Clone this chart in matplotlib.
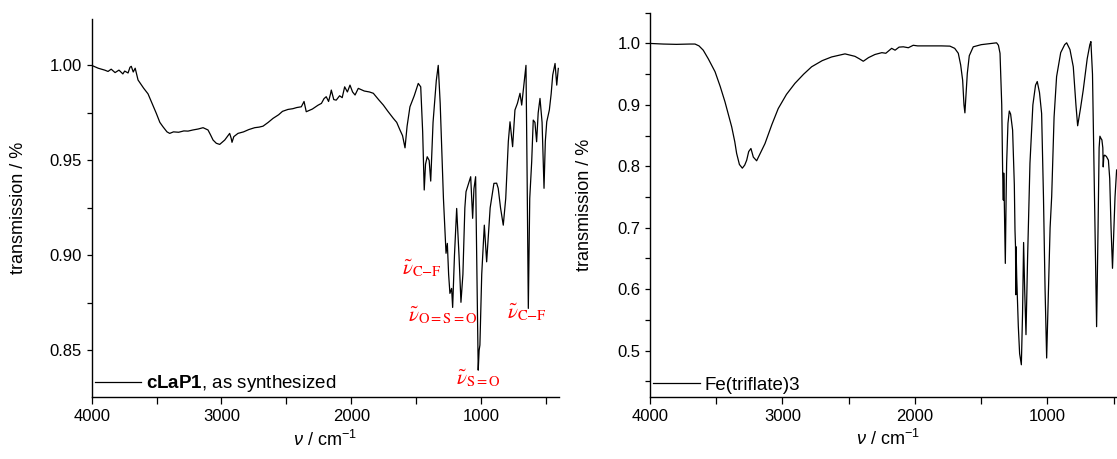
import matplotlib
matplotlib.use("Agg")
import matplotlib.pyplot as plt
from matplotlib.ticker import MultipleLocator, FormatStrFormatter

plt.rcParams['font.family'] = ['Liberation Sans', 'DejaVu Sans']
plt.rcParams['mathtext.fontset'] = 'custom'
plt.rcParams['mathtext.rm'] = 'Liberation Sans'
plt.rcParams['mathtext.it'] = 'Liberation Sans:italic'
plt.rcParams['mathtext.bf'] = 'Liberation Sans:bold'

# cLaP1, as synthesized (wavenumber / cm-1, transmission)
nu_clap = [4000, 3950, 3900, 3874, 3850, 3820, 3790, 3760, 3746, 3720, 3705, 3695, 3680, 3665,
           3643, 3620, 3600, 3566, 3535, 3502, 3475, 3451, 3420, 3399, 3370, 3330, 3290, 3258,
           3220, 3180, 3142, 3120, 3104, 3085, 3065, 3040, 3014, 2995, 2975, 2955, 2937, 2925,
           2919, 2905, 2873, 2830, 2790, 2744, 2710, 2680, 2640, 2603, 2560, 2530, 2488, 2450,
           2420, 2385, 2364, 2347, 2300, 2257, 2230, 2210, 2193, 2175, 2160, 2154, 2135, 2116,
           2090, 2070, 2051, 2030, 2010, 1990, 1971, 1946, 1900, 1860, 1830, 1790, 1753, 1720,
           1676, 1650, 1625, 1605, 1586, 1570, 1548, 1515, 1484, 1465, 1450, 1438, 1428, 1415,
           1400, 1388, 1370, 1345, 1330, 1315, 1290, 1270, 1260, 1250, 1240, 1227, 1219, 1205,
           1188, 1170, 1155, 1140, 1125, 1116, 1095, 1080, 1065, 1055, 1042, 1030, 1022, 1015,
           1009, 995, 975, 965, 957, 930, 901, 880, 868, 850, 829, 810, 790, 777, 757, 739,
           720, 700, 687, 670, 654, 645, 636, 625, 610, 598, 585, 572, 560, 546, 530, 515,
           505, 494, 474, 460, 448, 430, 417, 405]
T_clap = [1.000, 0.9985, 0.9975, 0.9968, 0.9980, 0.9962, 0.9975, 0.9955, 0.9970, 0.9960, 0.9990,
          0.9995, 0.9965, 0.9985, 0.9923, 0.9900, 0.9880, 0.9850, 0.9800, 0.9747, 0.9700, 0.9677,
          0.9650, 0.9642, 0.9650, 0.9648, 0.9655, 0.9654, 0.9660, 0.9665, 0.9672, 0.9665, 0.9660,
          0.9635, 0.9607, 0.9590, 0.9584, 0.9595, 0.9607, 0.9625, 0.9642, 0.9615, 0.9595, 0.9625,
          0.9642, 0.9650, 0.9662, 0.9672, 0.9675, 0.9680, 0.9700, 0.9721, 0.9740, 0.9758, 0.9768,
          0.9772, 0.9778, 0.9782, 0.9810, 0.9756, 0.9770, 0.9790, 0.9800, 0.9825, 0.9835, 0.9810,
          0.9850, 0.9870, 0.9820, 0.9817, 0.9840, 0.9830, 0.9887, 0.9860, 0.9896, 0.9860, 0.9844,
          0.9879, 0.9865, 0.9860, 0.9853, 0.9820, 0.9791, 0.9760, 0.9721, 0.9700, 0.9660, 0.9630,
          0.9566, 0.9680, 0.9782, 0.9840, 0.9905, 0.9887, 0.9650, 0.9344, 0.9480, 0.9519, 0.9500,
          0.9391, 0.9700, 0.9920, 1.000, 0.9800, 0.9300, 0.9011, 0.9063, 0.8900, 0.8800, 0.8826,
          0.8726, 0.9000, 0.9247, 0.9000, 0.8753, 0.8900, 0.9250, 0.9335, 0.9380, 0.9414, 0.9195,
          0.9350, 0.9414, 0.8800, 0.8396, 0.8500, 0.8528, 0.8900, 0.9159, 0.9050, 0.8966, 0.9250,
          0.9379, 0.9380, 0.9353, 0.9250, 0.9159, 0.9300, 0.9600, 0.9703, 0.9572, 0.9765, 0.9800,
          0.9853, 0.9791, 0.9900, 1.000, 0.9400, 0.8721, 0.9300, 0.9493, 0.9712, 0.9700, 0.9598,
          0.9750, 0.9826, 0.9700, 0.9353, 0.9600, 0.9703, 0.9765, 0.9850, 0.9949, 1.001, 0.9896,
          0.9984]

# Fe(triflate)3
nu_fe = [4000, 3900, 3800, 3700, 3660, 3630, 3598, 3560, 3509, 3470, 3434, 3400, 3383, 3360,
         3346, 3325, 3303, 3285, 3270, 3255, 3238, 3220, 3195, 3170, 3132, 3080, 3032, 2970,
         2906, 2840, 2780, 2700, 2629, 2528, 2453, 2420, 2390, 2350, 2302, 2250, 2220, 2176,
         2150, 2120, 2088, 2050, 2013, 1980, 1900, 1800, 1736, 1700, 1673, 1655, 1640, 1630,
         1623, 1615, 1605, 1590, 1560, 1500, 1460, 1384, 1370, 1358, 1345, 1338, 1333, 1330,
         1328, 1318, 1312, 1308, 1298, 1288, 1278, 1263, 1250, 1245, 1241, 1239, 1237, 1232,
         1220, 1210, 1197, 1188, 1180, 1172, 1162, 1150, 1132, 1110, 1090, 1077, 1060, 1044,
         1030, 1018, 1006, 995, 980, 968, 950, 931, 900, 870, 855, 830, 805, 785, 772, 750,
         730, 700, 680, 672, 660, 645, 629, 618, 610, 604, 595, 589, 582, 579, 575, 570, 566,
         555, 540, 530, 520, 509, 500, 490, 478]
T_fe = [1.000, 0.999, 0.9985, 0.999, 0.999, 0.996, 0.989, 0.975, 0.954, 0.930, 0.905, 0.878,
        0.864, 0.840, 0.821, 0.803, 0.797, 0.802, 0.810, 0.824, 0.829, 0.815, 0.809, 0.820,
        0.837, 0.868, 0.894, 0.917, 0.935, 0.950, 0.962, 0.972, 0.978, 0.983, 0.979, 0.975,
        0.971, 0.977, 0.982, 0.985, 0.984, 0.992, 0.989, 0.994, 0.9945, 0.993, 0.997, 0.996,
        0.996, 0.996, 0.9956, 0.992, 0.984, 0.965, 0.940, 0.900, 0.887, 0.915, 0.951, 0.980,
        0.9945, 0.998, 0.999, 1.001, 0.997, 0.984, 0.900, 0.789, 0.745, 0.789, 0.772, 0.642,
        0.750, 0.805, 0.870, 0.890, 0.885, 0.859, 0.770, 0.696, 0.669, 0.591, 0.669, 0.620,
        0.540, 0.495, 0.477, 0.560, 0.676, 0.600, 0.526, 0.650, 0.805, 0.900, 0.932, 0.938,
        0.920, 0.886, 0.750, 0.600, 0.488, 0.580, 0.700, 0.751, 0.880, 0.946, 0.985, 0.998,
        1.001, 0.990, 0.962, 0.900, 0.866, 0.895, 0.924, 0.975, 0.998, 1.003, 0.950, 0.750,
        0.539, 0.700, 0.830, 0.849, 0.845, 0.843, 0.830, 0.799, 0.815, 0.818, 0.818, 0.816,
        0.810, 0.780, 0.700, 0.634, 0.690, 0.750, 0.794]

labels = [r'$\tilde{\nu}_{\mathrm{C{-}F}}$', r'$\tilde{\nu}_{\mathrm{O{=}S{=}O}}$',
          r'$\tilde{\nu}_{\mathrm{S{=}O}}$', r'$\tilde{\nu}_{\mathrm{C{-}F}}$']
label_nu = [1455, 1293, 1024, 647]
label_T = [0.8935, 0.8686, 0.8354, 0.8702]

fig = plt.figure(figsize=(11.17, 4.59), dpi=100)
ax1 = fig.add_axes([0.0821, 0.1344, 0.4183, 0.8242])
ax2 = fig.add_axes([0.5819, 0.1357, 0.4270, 0.8366])


def style(ax):
    for s in ['top', 'right']:
        ax.spines[s].set_visible(False)
    for s in ['left', 'bottom']:
        ax.spines[s].set_linewidth(1.0)
    ax.xaxis.set_major_locator(MultipleLocator(1000))
    ax.xaxis.set_minor_locator(MultipleLocator(500))
    ax.tick_params(which='both', direction='out', width=0.9, labelsize=12)
    ax.tick_params(axis='x', which='both', length=5)
    ax.tick_params(axis='y', which='both', length=3.5)
    ax.set_xlim(4000, 400)
    ax.set_xlabel(r'$\it{\nu}$ / cm$^{-1}$', fontsize=13)
    ax.set_ylabel('transmission / %', fontsize=13)


ax1.plot(nu_clap, T_clap, color='black', lw=0.9, label=r'$\mathbf{cLaP1}$, as synthesized')
style(ax1)
ax1.set_ylim(0.8253, 1.0244)
ax1.yaxis.set_major_locator(MultipleLocator(0.05))
ax1.yaxis.set_minor_locator(MultipleLocator(0.025))
ax1.yaxis.set_major_formatter(FormatStrFormatter('%.2f'))
ax1.yaxis.set_label_coords(-0.139, 0.5)
for lab, x, y in zip(labels, label_nu, label_T):
    ax1.text(x, y, lab, color='red', fontsize=15, ha='center', va='center', math_fontfamily='stix')
ax1.legend(loc='lower left', frameon=False, fontsize=13.5, handlelength=2.5,
           borderaxespad=0.05, borderpad=0.1, handletextpad=0.25)

ax2.plot(nu_fe, T_fe, color='black', lw=0.9, label='Fe(triflate)3')
style(ax2)
ax2.set_ylim(0.425, 1.05)
ax2.yaxis.set_major_locator(MultipleLocator(0.1))
ax2.yaxis.set_minor_locator(MultipleLocator(0.05))
ax2.yaxis.set_major_formatter(FormatStrFormatter('%.1f'))
ax2.yaxis.set_label_coords(-0.12, 0.5)
ax2.legend(loc='lower left', frameon=False, fontsize=13.5, handlelength=2.5,
           borderaxespad=0.05, borderpad=0.1, handletextpad=0.25)

fig.savefig('out.png', dpi=100)
